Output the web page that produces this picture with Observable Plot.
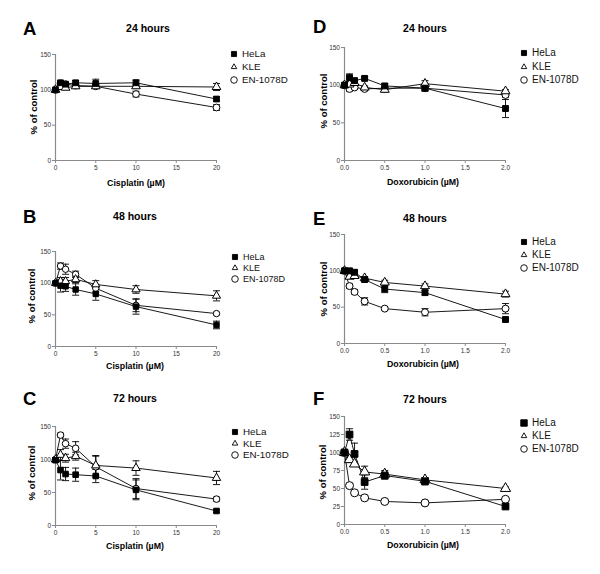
<!DOCTYPE html>
<html><head><meta charset="utf-8">
<script src="https://cdn.jsdelivr.net/npm/d3@7"></script>
<script src="https://cdn.jsdelivr.net/npm/@observablehq/plot@0.6"></script>
<style>
body{margin:0;background:#fff}
#fig{position:relative;width:600px;height:574px;overflow:hidden;background:#fff;font-family:"Liberation Sans",Arial,sans-serif}
</style>
</head><body><div id="fig"></div>
<script>
// ---- data ----
const cisDose = [0, 0.625, 1.25, 2.5, 5, 10, 20];
const doxDose = [0, 0.0625, 0.125, 0.25, 0.5, 1, 2];
const seriesNames = ["HeLa", "KLE", "EN-1078D"];
const cisTicks = [0, 5, 10, 15, 20];
const doxTicks = [0, 0.5, 1, 1.5, 2];
const yTicks50 = [0, 50, 100, 150];
const yTicks25 = [0, 25, 50, 75, 100, 125, 150];
const yDomain = [0, 150];

// A: cisplatin 24 h
const aHeLa = [100, 110, 108, 110, 109, 110, 87];
const aHeLaErr = [1, 2, 2, 3, 6, 4, 3];
const aKLE = [100, 104, 103, 105, 105, 105, 104];
const aKLEErr = [1, 2, 2, 2, 3, 3, 5];
const aEN = [100, 109, 108, 106, 105, 94, 75];
const aENErr = [1, 2, 2, 2, 3, 4, 4];
// B: cisplatin 48 h
const bHeLa = [100, 96, 95, 90, 83, 63, 34];
const bHeLaErr = [2, 10, 8, 9, 10, 12, 6];
const bKLE = [100, 103, 103, 106, 98, 90, 80];
const bKLEErr = [2, 6, 6, 5, 6, 6, 8];
const bEN = [100, 127, 122, 114, 92, 65, 52];
const bENErr = [2, 5, 8, 5, 6, 10, 2];
// C: cisplatin 72 h
const cHeLa = [99, 84, 78, 77, 75, 54, 22];
const cHeLaErr = [3, 15, 10, 10, 10, 15, 2];
const cKLE = [100, 107, 102, 105, 91, 87, 72];
const cKLEErr = [2, 8, 6, 6, 15, 11, 10];
const cEN = [100, 137, 124, 117, 89, 56, 40];
const cENErr = [2, 3, 7, 10, 16, 15, 3];
// D: doxorubicin 24 h
const dHeLa = [100, 110, 106, 109, 99, 96, 69];
const dHeLaErr = [2, 5, 2, 2, 3, 4, 12];
const dKLE = [100, 101, 103, 97, 94, 102, 92];
const dKLEErr = [2, 3, 3, 2, 3, 4, 2];
const dEN = [100, 95, 97, 95, 96, 96, 87];
const dENErr = [2, 3, 2, 2, 2, 3, 3];
// E: doxorubicin 48 h
const eHeLa = [100, 100, 98, 88, 75, 70, 33];
const eHeLaErr = [2, 2, 3, 3, 5, 3, 2];
const eKLE = [100, 92, 93, 90, 84, 79, 68];
const eKLEErr = [2, 2, 3, 2, 3, 3, 4];
const eEN = [100, 79, 71, 58, 48, 43, 48];
const eENErr = [2, 3, 3, 5, 2, 5, 7];
// F: doxorubicin 72 h
const fHeLa = [100, 125, 98, 59, 68, 60, 25];
const fHeLaErr = [2, 8, 15, 10, 5, 5, 2];
const fKLE = [100, 90, 84, 73, 70, 62, 50];
const fKLEErr = [2, 3, 3, 8, 5, 3, 2];
const fEN = [100, 54, 44, 37, 32, 30, 35];
const fENErr = [2, 3, 2, 3, 2, 2, 2];

const cisLabel = "Cisplatin (µM)";
const doxLabel = "Doxorubicin (µM)";
const yLabel = "% of control";

// ---- layout ----
const panels = [
  {id:"A", title:"24 hours", xlab:cisLabel, dose:cisDose, xTicks:cisTicks, yTicks:yTicks50, fmt:d3.format("d"),
   vals:[aHeLa,aKLE,aEN], errs:[aHeLaErr,aKLEErr,aENErr],
   L:{left:0,x0:55,x1:216,yTop:54,yBot:160,letter:[23,35],title:[148,32],ylab:[36.5,107],xlabPos:[136,186],leg:{x:234,ys:[54,67,80],fs:9.8},r:3.4}},
  {id:"B", title:"48 hours", xlab:cisLabel, dose:cisDose, xTicks:cisTicks, yTicks:yTicks50, fmt:d3.format("d"),
   vals:[bHeLa,bKLE,bEN], errs:[bHeLaErr,bKLEErr,bENErr],
   L:{left:0,x0:55,x1:216,yTop:251,yBot:346,letter:[23,223],title:[135,220],ylab:[35,296],xlabPos:[135,369],leg:{x:235,ys:[257,268,279],fs:9},r:3.2}},
  {id:"C", title:"72 hours", xlab:cisLabel, dose:cisDose, xTicks:cisTicks, yTicks:yTicks50, fmt:d3.format("d"),
   vals:[cHeLa,cKLE,cEN], errs:[cHeLaErr,cKLEErr,cENErr],
   L:{left:0,x0:55,x1:216,yTop:426,yBot:525,letter:[23,405],title:[135,402],ylab:[35,473],xlabPos:[135,549],leg:{x:235,ys:[432,443.5,455],fs:9.8},r:3.3}},
  {id:"D", title:"24 hours", xlab:doxLabel, dose:doxDose, xTicks:doxTicks, yTicks:yTicks50, fmt:d3.format(".1f"),
   vals:[dHeLa,dKLE,dEN], errs:[dHeLaErr,dKLEErr,dENErr],
   L:{left:300,x0:344,x1:505,yTop:47,yBot:160,letter:[313,33],title:[425,32],ylab:[327,101],xlabPos:[423,185],leg:{x:524,ys:[53,67,80],fs:10},r:3.5}},
  {id:"E", title:"48 hours", xlab:doxLabel, dose:doxDose, xTicks:doxTicks, yTicks:yTicks50, fmt:d3.format(".1f"),
   vals:[eHeLa,eKLE,eEN], errs:[eHeLaErr,eKLEErr,eENErr],
   L:{left:300,x0:344,x1:505,yTop:234,yBot:343,letter:[313,225],title:[425,222],ylab:[327,289],xlabPos:[423,367],leg:{x:524,ys:[242,255,268],fs:10},r:3.5}},
  {id:"F", title:"72 hours", xlab:doxLabel, dose:doxDose, xTicks:doxTicks, yTicks:yTicks25, fmt:d3.format(".1f"),
   vals:[fHeLa,fKLE,fEN], errs:[fHeLaErr,fKLEErr,fENErr],
   L:{left:300,x0:344,x1:505,yTop:416,yBot:524,letter:[313,405],title:[425,403],ylab:[326,472],xlabPos:[423,548],leg:{x:524,ys:[423,436,449],fs:10},r:4.0}}
];

const symbols = ["square", "triangle", "circle"];
const fills = ["black", "white", "white"];
const capSymbol = {draw(ctx) { ctx.moveTo(-3.5, 0); ctx.lineTo(3.5, 0); }};
const FONT = "'Liberation Sans', Arial, sans-serif";

const fig = document.getElementById("fig");

for (const p of panels) {
  const L = p.L;
  const rows = [];
  p.vals.forEach((arr, si) => arr.forEach((v, i) => rows.push({series: seriesNames[si], si, dose: p.dose[i], value: v, err: p.errs[si][i]})));
  const top = L.yTop - 15;
  const H = L.yBot - L.yTop + 40;
  const xDomain = [p.dose[0], p.dose[p.dose.length - 1]];
  const dotMarks = [];
  [2, 1, 0].forEach(si => {
    const sub = rows.filter(d => d.si === si);
    dotMarks.push(Plot.dot(sub, {x: "dose", y: "value", symbol: symbols[si], fill: fills[si], stroke: "black", strokeWidth: 1,
      r: si === 0 ? L.r * 0.95 : (si === 1 ? L.r * 0.95 : L.r)}));
  });
  const svg = Plot.plot({
    width: 300, height: H,
    marginLeft: L.x0 - L.left, marginRight: L.left + 300 - L.x1,
    marginTop: L.yTop - top, marginBottom: top + H - L.yBot,
    style: {fontFamily: FONT, fontSize: "6.5px", background: "transparent", overflow: "visible"},
    x: {domain: xDomain},
    y: {domain: yDomain},
    marks: [
      Plot.ruleY([yDomain[0]], {x1: xDomain[0], x2: xDomain[1], stroke: "#8a8a8a", strokeWidth: 1.2}),
      Plot.ruleX([xDomain[0]], {y1: yDomain[0], y2: yDomain[1], stroke: "#8a8a8a", strokeWidth: 1.2}),
      Plot.axisX({ticks: p.xTicks, tickFormat: p.fmt, tickSize: 3, tickPadding: 1.5, stroke: "#8a8a8a", fill: "#333", label: null}),
      Plot.axisY({ticks: p.yTicks, tickSize: 3, tickPadding: 1.5, stroke: "#8a8a8a", fill: "#333", label: null}),
      Plot.line(rows, {x: "dose", y: "value", z: "series", stroke: "black", strokeWidth: 0.9}),
      Plot.ruleX(rows, {x: "dose", y1: d => d.value - d.err, y2: d => d.value + d.err, stroke: "black", strokeWidth: 0.9}),
      Plot.dot(rows, {x: "dose", y: d => d.value - d.err, symbol: capSymbol, fill: "none", stroke: "black", strokeWidth: 0.9}),
      Plot.dot(rows, {x: "dose", y: d => d.value + d.err, symbol: capSymbol, fill: "none", stroke: "black", strokeWidth: 0.9}),
      ...dotMarks
    ]
  });
  svg.style.position = "absolute";
  svg.style.left = L.left + "px";
  svg.style.top = top + "px";
  fig.appendChild(svg);
}

// ---- overlay text and legends ----
const ov = d3.select(fig).append("svg")
  .attr("width", 600).attr("height", 574)
  .style("position", "absolute").style("left", "0px").style("top", "0px")
  .style("font-family", FONT);

for (const p of panels) {
  const L = p.L;
  ov.append("text").attr("x", L.letter[0]).attr("y", L.letter[1])
    .attr("font-size", 18.5).attr("font-weight", "bold").text(p.id);
  ov.append("text").attr("x", L.title[0]).attr("y", L.title[1]).attr("text-anchor", "middle")
    .attr("font-size", 10.5).attr("font-weight", "bold").text(p.title);
  ov.append("text").attr("transform", `translate(${L.ylab[0]},${L.ylab[1]}) rotate(-90)`).attr("text-anchor", "middle")
    .attr("font-size", 9.5).attr("font-weight", "bold").text(yLabel);
  ov.append("text").attr("x", L.xlabPos[0]).attr("y", L.xlabPos[1]).attr("text-anchor", "middle")
    .attr("font-size", 8.8).attr("font-weight", "bold").text(p.xlab);
  const lg = L.leg;
  seriesNames.forEach((name, si) => {
    const y = lg.ys[si];
    const sym = si === 0 ? d3.symbolSquare : (si === 1 ? d3.symbolTriangle2 : d3.symbolCircle);
    const size = si === 0 ? (p.id === "F" ? 42 : 26) : (si === 1 ? 22 : 34);
    ov.append("path").attr("transform", `translate(${lg.x},${y})`)
      .attr("d", d3.symbol(sym, size)())
      .attr("fill", fills[si]).attr("stroke", "black").attr("stroke-width", 0.9);
    ov.append("text").attr("x", lg.x + 8).attr("y", y + 3.4)
      .attr("font-size", lg.fs).attr("fill", "#111").text(name);
  });
}
</script>
</body></html>
